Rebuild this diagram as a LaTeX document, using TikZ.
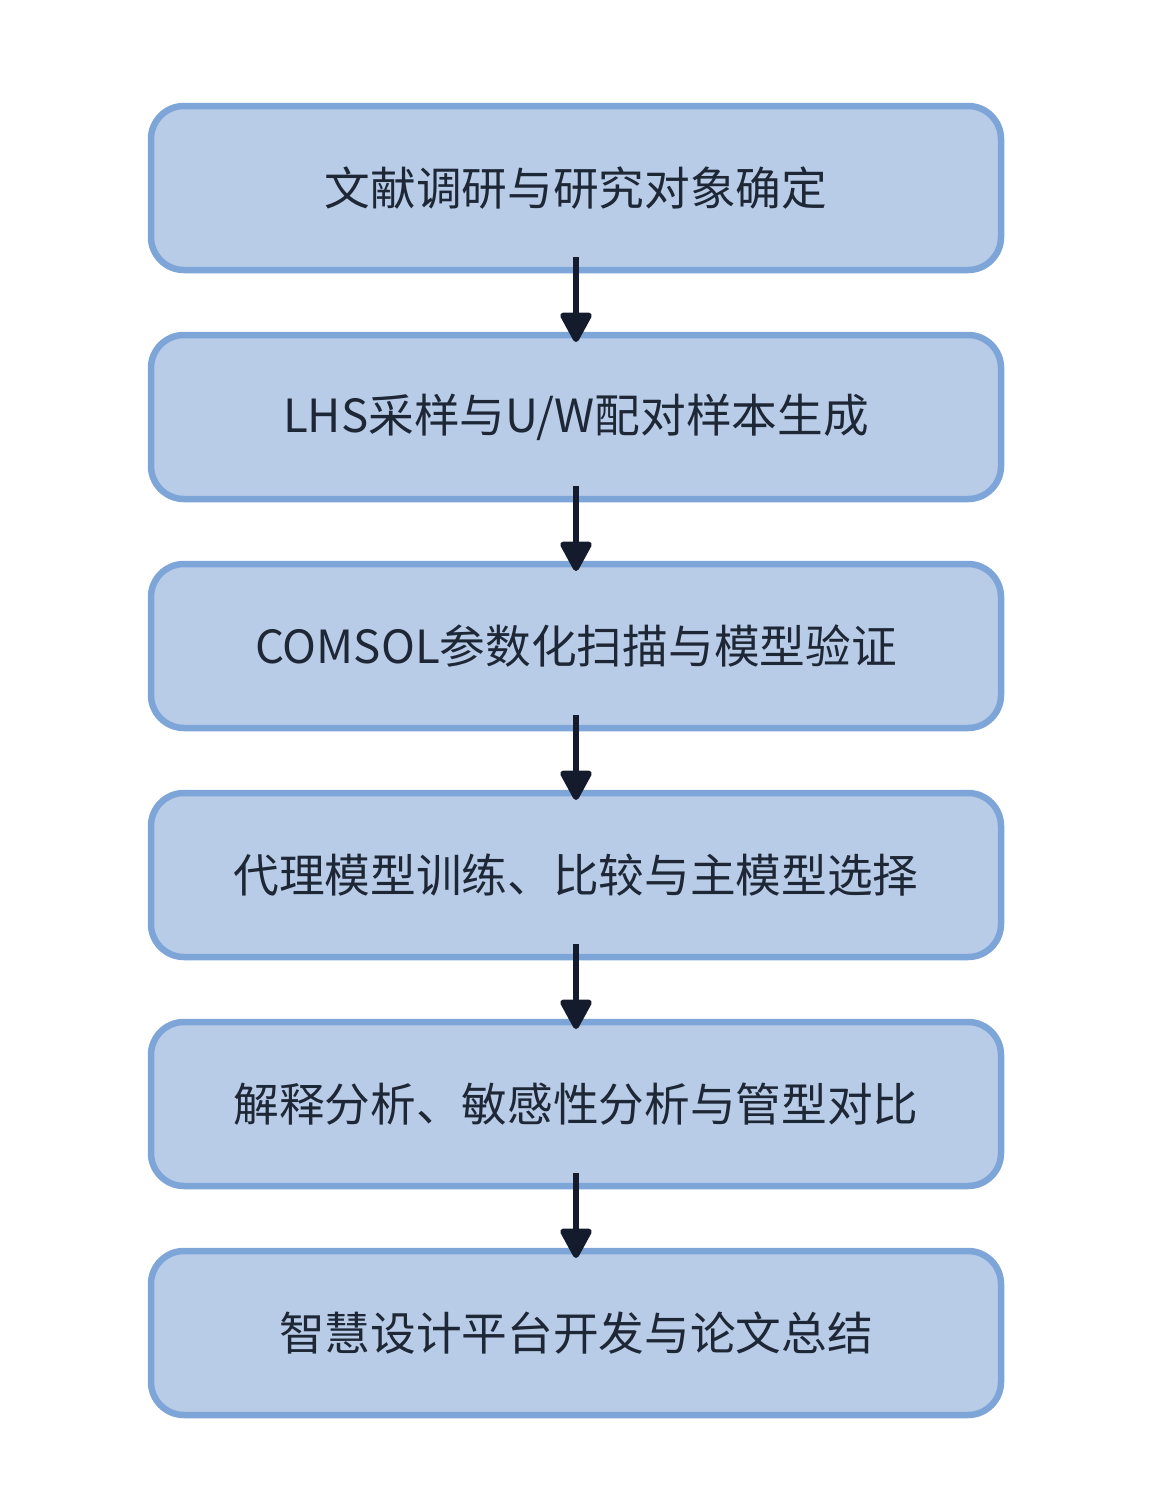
\documentclass[tikz,border=0pt]{standalone}
\usepackage{fontspec}
\setmainfont{Noto Sans CJK SC}
\usetikzlibrary{positioning,arrows.meta}
\definecolor{boxfill}{HTML}{B8CCE8}
\definecolor{boxline}{HTML}{7EA5D8}
\definecolor{arrowcol}{HTML}{141B2D}
\definecolor{textcol}{HTML}{1E2735}

\begin{document}
\begin{tikzpicture}[node distance=0.65cm]
      \tikzstyle{stage} = [draw=boxline, fill=boxfill, line width=0.065cm, rounded corners=0.33cm,
        minimum width=8.5cm, minimum height=1.64cm, outer sep=0pt, inner sep=0pt,
        font=\fontsize{13pt}{15pt}\selectfont, text=textcol]
      \tikzstyle{flow} = [draw=arrowcol, line width=0.06cm,
        -{Triangle[length=0.33cm,width=0.34cm,round]}]
      \useasboundingbox (0,0) rectangle (11.52,-14.92);
      \node (lit) [stage] at (5.76,-1.88) {文献调研与研究对象确定};
      \node (lhs) [stage, below=of lit] {LHS采样与U/W配对样本生成};
      \node (comsol) [stage, below=of lhs] {COMSOL参数化扫描与模型验证};
      \node (surrogate) [stage, below=of comsol] {代理模型训练、比较与主模型选择};
      \node (explain) [stage, below=of surrogate] {解释分析、敏感性分析与管型对比};
      \node (platform) [stage, below=of explain] {智慧设计平台开发与论文总结};
      \draw[flow] ([yshift=0.13cm]lit.south) -- ([yshift=-0.07cm]lhs.north);
      \draw[flow] ([yshift=0.13cm]lhs.south) -- ([yshift=-0.07cm]comsol.north);
      \draw[flow] ([yshift=0.13cm]comsol.south) -- ([yshift=-0.07cm]surrogate.north);
      \draw[flow] ([yshift=0.13cm]surrogate.south) -- ([yshift=-0.07cm]explain.north);
      \draw[flow] ([yshift=0.13cm]explain.south) -- ([yshift=-0.07cm]platform.north);
    \end{tikzpicture}
\end{document}
